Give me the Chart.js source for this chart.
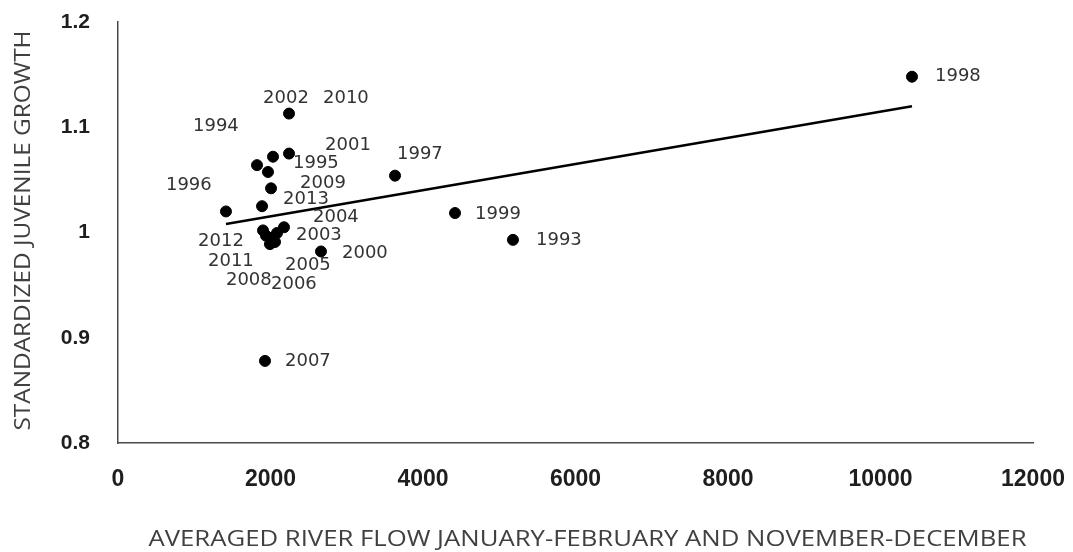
<!DOCTYPE html>
<html>
<head>
<meta charset="utf-8">
<script src="https://cdn.jsdelivr.net/npm/chart.js@4/dist/chart.umd.min.js"></script>
<style>
  html, body { margin: 0; padding: 0; background: #ffffff; }
  #wrap { width: 1073px; height: 552px; }
</style>
</head>
<body>
<div id="wrap"><canvas id="c" width="1073" height="552"></canvas></div>
<script>
const years = [1993, 1994, 1995, 1996, 1997, 1998, 1999, 2000, 2001, 2002, 2003,
               2004, 2005, 2006, 2007, 2008, 2009, 2010, 2011, 2012, 2013];
const riverFlow = [5180, 1823, 1967, 1416, 3633, 10413, 4420, 2662, 2243, 2243, 2085,
                   2177, 2033, 2059, 1928, 1993, 2007, 2033, 1941, 1902, 1889];
const juvenileGrowth = [0.993, 1.064, 1.0575, 1.020, 1.054, 1.148, 1.0185, 0.982, 1.075, 1.113, 0.9995,
                        1.005, 0.995, 0.991, 0.878, 0.989, 1.042, 1.072, 0.997, 1.002, 1.025];
const trendFlow = [1416, 10413];
const trendGrowth = [1.008, 1.120];
const xTickValues = [0, 2000, 4000, 6000, 8000, 10000, 12000];
const xTickLabels = ['0', '2000', '4000', '6000', '8000', '10000', '12000'];
const yTickValues = [0.8, 0.9, 1.0, 1.1, 1.2];
const yTickLabels = ['0.8', '0.9', '1', '1.1', '1.2'];
const xTitle = 'AVERAGED RIVER FLOW JANUARY-FEBRUARY AND NOVEMBER-DECEMBER';
const yTitle = 'STANDARDIZED JUVENILE GROWTH';

// label placement offsets (px) relative to each point, in year order
const labelOffsets = [[23,0],[-64,-39],[25,-9],[-60,-26],[2,-21],[23,0],[20,1],[21,2],[36,-8],[-26,-15],[19,2],
                      [29,-10],[12,28],[-4,42],[20,0],[-44,36],[29,-5],[50,-58],[-58,26],[-65,11],[21,-7]];

const scatterData = riverFlow.map((x, i) => ({ x: x, y: juvenileGrowth[i] }));
const trendData = trendFlow.map((x, i) => ({ x: x, y: trendGrowth[i] }));

const yearLabels = {
  id: 'yearLabels',
  afterDatasetsDraw(chart) {
    const ctx = chart.ctx;
    const meta = chart.getDatasetMeta(1);
    ctx.save();
    ctx.font = '18px "DejaVu Sans"';
    ctx.fillStyle = '#333333';
    ctx.textAlign = 'left';
    ctx.textBaseline = 'middle';
    meta.data.forEach((pt, i) => {
      const off = labelOffsets[i];
      ctx.fillText(String(years[i]), pt.x + off[0], pt.y + off[1]);
    });
    ctx.restore();
  }
};

// axis titles, stretched along their length like the reference
const axisTitles = {
  id: 'axisTitles',
  afterDraw(chart) {
    const ctx = chart.ctx;
    const area = chart.chartArea;
    ctx.save();
    ctx.font = '21px "Open Sans"';
    ctx.fillStyle = '#404040';
    ctx.textAlign = 'center';
    ctx.textBaseline = 'middle';
    let w = ctx.measureText(xTitle).width;
    let sx = 878 / w;
    ctx.save();
    ctx.translate((area.left + area.right) / 2 + 12, 540);
    ctx.scale(sx, 1);
    ctx.fillText(xTitle, 0, 0);
    ctx.restore();
    w = ctx.measureText(yTitle).width;
    sx = 400 / w;
    ctx.save();
    ctx.translate(24, (area.top + area.bottom) / 2 - 2);
    ctx.rotate(-Math.PI / 2);
    ctx.scale(sx, 1);
    ctx.fillText(yTitle, 0, 0);
    ctx.restore();
    ctx.restore();
  }
};

function zeroPad(scale) {
  scale.paddingLeft = 0; scale.paddingRight = 0;
  scale.paddingTop = 0; scale.paddingBottom = 0;
}

new Chart(document.getElementById('c'), {
  type: 'scatter',
  data: {
    datasets: [
      {
        label: 'Trend',
        data: trendData,
        showLine: true,
        borderColor: '#000000',
        borderWidth: 2.5,
        pointRadius: 0,
        pointHoverRadius: 0,
        fill: false,
        order: 2
      },
      {
        label: 'Growth',
        data: scatterData,
        backgroundColor: '#000000',
        borderColor: '#000000',
        pointRadius: 5.5,
        pointHoverRadius: 5.5,
        order: 1
      }
    ]
  },
  options: {
    responsive: false,
    animation: false,
    events: [],
    layout: { padding: { left: 0, right: 40, top: 22, bottom: 0 } },
    plugins: { legend: { display: false }, tooltip: { enabled: false } },
    scales: {
      x: {
        type: 'linear',
        min: 0, max: 12000,
        afterBuildTicks(scale) { scale.ticks = xTickValues.map(v => ({ value: v })); },
        afterFit(scale) { scale.height = 109; zeroPad(scale); },
        grid: { display: false, drawTicks: false },
        border: { display: true, color: '#4a4a4a', width: 1.5 },
        ticks: {
          padding: 23,
          color: '#1e1e1e',
          font: { family: '"Liberation Sans"', size: 23, weight: 'bold' },
          callback: (v) => { const i = xTickValues.indexOf(v); return i >= 0 ? xTickLabels[i] : ''; },
          maxRotation: 0
        },
        title: { display: false }
      },
      y: {
        type: 'linear',
        min: 0.8, max: 1.2,
        afterBuildTicks(scale) { scale.ticks = yTickValues.map(v => ({ value: v })); },
        afterFit(scale) { scale.width = 118; zeroPad(scale); },
        grid: { display: false, drawTicks: false },
        border: { display: true, color: '#4a4a4a', width: 1.5 },
        ticks: {
          padding: 28,
          color: '#1e1e1e',
          font: { family: '"Liberation Sans"', size: 21, weight: 'bold' },
          callback: (v) => { const i = yTickValues.findIndex(t => Math.abs(t - v) < 1e-9); return i >= 0 ? yTickLabels[i] : ''; }
        },
        title: { display: false }
      }
    }
  },
  plugins: [yearLabels, axisTitles]
});
</script>
</body>
</html>
